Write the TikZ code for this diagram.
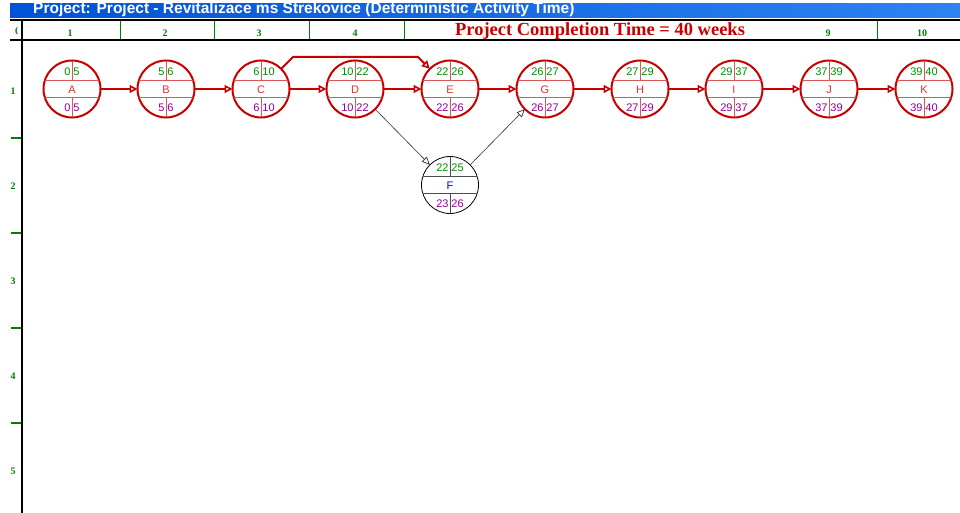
\documentclass[tikz,border=0pt]{standalone}
\usepackage{fontspec}
\setmainfont{Liberation Sans}
\newfontfamily\tnr{Liberation Serif}
\usetikzlibrary{arrows.meta,shapes.geometric}
\definecolor{nodered}{HTML}{C80000}
\definecolor{linered}{HTML}{D85858}
\definecolor{letred}{HTML}{E03030}
\definecolor{numgreen}{HTML}{008C00}
\definecolor{numpurple}{HTML}{930093}
\definecolor{axisgreen}{HTML}{008000}
\definecolor{bar1}{HTML}{0052D6}
\definecolor{bar2}{HTML}{2F82F2}
\tikzset{
  critcirc/.style={circle,draw=nodered,line width=2pt,minimum size=57pt,inner sep=0pt,outer sep=0pt},
  freecirc/.style={circle,draw=black,line width=0.8pt,minimum size=57pt,inner sep=0pt,outer sep=0pt},
  critin/.style={draw=linered,line width=0.9pt},
  freein/.style={draw=black!70,line width=0.8pt},
  critlet/.style={text=letred},
  freelet/.style={text=blue},
  numtxt/.style={inner sep=0pt,font=\fontsize{11}{12}\selectfont},
  crit/.style={draw=nodered,line width=2pt,-{Triangle[open,length=8pt,width=8pt,line width=1.6pt]}},
  noncrit/.style={draw=black!80,line width=0.6pt,-{Triangle[open,length=8pt,width=7pt,line width=0.7pt]}},
  axislab/.style={text=axisgreen,font=\tnr\bfseries\fontsize{10}{11}\selectfont,inner sep=0pt},
}
% name, x, y, letter, es, ef, ls, lf, kind (crit/free)
\newcommand\pertnode[9]{%
  \node[#9circ] (#1) at (#2,#3) {};
  \begin{scope}[shift={(#2,#3)}]
    \draw[#9in] (-27.2,-8.5) -- (27.2,-8.5);
    \draw[#9in] (-27.2,8.5) -- (27.2,8.5);
    \draw[#9in] (0,-28) -- (0,-8.5);
    \draw[#9in] (0,8.5) -- (0,28);
    \node[numtxt,#9let] (#1l) at (0,0.3) {#4};
    \node[numtxt,text=numgreen,anchor=east] (#1a) at (-1.2,-17.5) {#5};
    \node[numtxt,text=numgreen,anchor=west] (#1b) at (1.2,-17.5) {#6};
    \node[numtxt,text=numpurple,anchor=east] (#1c) at (-1.2,18.5) {#7};
    \node[numtxt,text=numpurple,anchor=west] (#1d) at (1.2,18.5) {#8};
  \end{scope}}
\begin{document}
\begin{tikzpicture}[x=1pt,y=-1pt]
\useasboundingbox[fill=white] (0,0) rectangle (960,513);
% window title bar
\shade[left color=bar1,right color=bar2] (10,4) rectangle (960,18);
\begin{scope}
  \clip (10,4) rectangle (960,18);
  \node[anchor=base west,text=white,inner sep=0pt,font=\bfseries\fontsize{15.5}{17}\selectfont] (wtitle) at (33,13.5) {Project: Project - Revitalizace ms Strekovice (Deterministic Activity Time)};
\end{scope}
% header grid
\draw[black,line width=1.8pt] (10,20) -- (960,20);
\draw[black,line width=2.8pt] (10,40) -- (960,40);
\draw[black,line width=2.8pt] (22,20) -- (22,513);
\foreach \xx in {120,214,309,404,877}{
  \draw[axisgreen,line width=0.8pt] (\xx,21) -- (\xx,39);
}
\begin{scope}
  \clip (13,22) rectangle (17,38);
  \node[axislab] (corner) at (17.5,31) {0};
\end{scope}
\node[axislab] (c1) at (70,33) {1};
\node[axislab] (c2) at (165,33) {2};
\node[axislab] (c3) at (259,33) {3};
\node[axislab] (c4) at (355,33) {4};
\node[axislab] (c9) at (828,33) {9};
\node[axislab] (c10) at (922,33) {10};
\node[text=nodered,inner sep=0pt,font=\tnr\bfseries\fontsize{18.5}{20}\selectfont] (ptitle) at (600,31) {Project Completion Time = 40 weeks};
% row axis
\node[axislab] (r1) at (13,91) {1};
\node[axislab] (r2) at (13,186) {2};
\node[axislab] (r3) at (13,281) {3};
\node[axislab] (r4) at (13,376) {4};
\node[axislab] (r5) at (13,471) {5};
\foreach \yy in {138,233,328,423}{
  \draw[axisgreen,line width=1.2pt] (11,\yy) -- (21,\yy);
}
% activity nodes
\pertnode{A}{72}{89}{A}{0}{5}{0}{5}{crit}
\pertnode{B}{166}{89}{B}{5}{6}{5}{6}{crit}
\pertnode{C}{261}{89}{C}{6}{10}{6}{10}{crit}
\pertnode{D}{355}{89}{D}{10}{22}{10}{22}{crit}
\pertnode{E}{450}{89}{E}{22}{26}{22}{26}{crit}
\pertnode{G}{545}{89}{G}{26}{27}{26}{27}{crit}
\pertnode{H}{640}{89}{H}{27}{29}{27}{29}{crit}
\pertnode{I}{734}{89}{I}{29}{37}{29}{37}{crit}
\pertnode{J}{829}{89}{J}{37}{39}{37}{39}{crit}
\pertnode{K}{924}{89}{K}{39}{40}{39}{40}{crit}
\pertnode{F}{450}{185}{F}{22}{25}{23}{26}{free}
% connectors
\draw[crit] (A) -- (B);
\draw[crit] (B) -- (C);
\draw[crit] (C) -- (D);
\draw[crit] (D) -- (E);
\draw[crit] (E) -- (G);
\draw[crit] (G) -- (H);
\draw[crit] (H) -- (I);
\draw[crit] (I) -- (J);
\draw[crit] (J) -- (K);
\coordinate (ce1) at (293,57);
\coordinate (ce2) at (418,57);
\draw[crit,line join=round] (C.45) -- (ce1) -- (ce2) -- (E.135);
\draw[noncrit] (D.-45) -- (F.135);
\draw[noncrit] (F.45) -- (G.-135);
\end{tikzpicture}
\end{document}
